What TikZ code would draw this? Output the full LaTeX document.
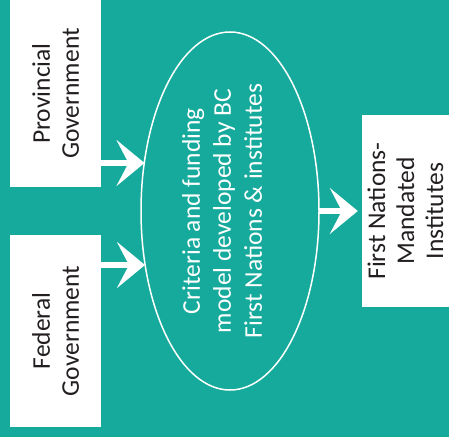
\documentclass[tikz,border=0pt]{standalone}
\usepackage{fontspec}
\setmainfont{Carlito}
\usetikzlibrary{shapes.geometric,arrows.meta}
\definecolor{teal1}{RGB}{22,170,157}
\definecolor{ink}{RGB}{35,31,32}
\begin{document}
\begin{tikzpicture}[x=1pt,y=1pt,
  box/.style={fill=white, rotate=90, inner sep=0pt, align=center,
    font=\fontsize{25.5}{29}\selectfont, text=ink},
  arr/.style={draw=white, line width=5.5pt,
    -{Stealth[length=28pt,width=46pt,inset=12pt]}}]
\fill[teal1] (0,0) rectangle (449,437);
\useasboundingbox (0,0) rectangle (449,437);
\node[box, minimum width=187pt, minimum height=91pt] (prov) at (55.5,343.5) {Provincial\\Government};
\node[box, minimum width=192pt, minimum height=91pt] (fed) at (55.5,106) {Federal\\Government};
\node[box, minimum width=192pt, minimum height=87pt] (fni) at (405.5,226) {First Nations-\\Mandated\\Institutes};
\node[ellipse, draw=white, line width=1.5pt, rotate=90, minimum width=358pt,
  minimum height=178pt, inner sep=0pt, outer sep=0pt] (ell) at (230,226) {};
\node[rotate=90, align=center, text=white, inner sep=0pt,
  font=\fontsize{25.5}{31}\selectfont] (elltext) at (222,226)
  {Criteria and funding\\model developed by BC\\First Nations \& institutes};
\coordinate (p1) at (144.5,274);
\coordinate (p2) at (145,172);
\draw[arr] (prov.south |- p1) -- (p1);
\draw[arr] (fed.south |- p2) -- (p2);
\draw[arr, shorten >=4pt] (ell.south) -- (fni.north);
\end{tikzpicture}
\end{document}
